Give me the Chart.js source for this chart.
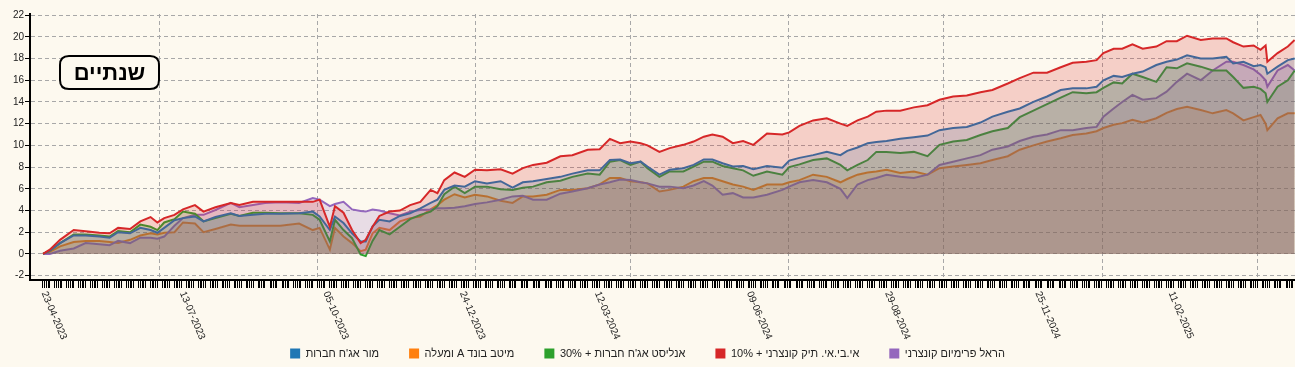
<!DOCTYPE html>
<html><head><meta charset="utf-8">
<script src="https://cdn.jsdelivr.net/npm/chart.js@4.4.1/dist/chart.umd.min.js"></script>
<style>
html,body{margin:0;padding:0;background:#fdf9ef;}
#wrap{width:1295px;height:367px;position:relative;overflow:hidden;}
canvas{display:block;}
</style></head><body>
<div id="wrap"><canvas id="c" width="1295" height="367"></canvas></div>
<script>
// ---------- data ----------
const dates = ['2023-04-23','2023-04-27','2023-05-03','2023-05-11','2023-05-18','2023-05-26','2023-06-01','2023-06-06','2023-06-13','2023-06-19',
'2023-06-25','2023-06-29','2023-07-03','2023-07-09','2023-07-14','2023-07-21','2023-07-26','2023-08-02','2023-08-11','2023-08-16',
'2023-08-24','2023-08-31','2023-09-09','2023-09-20','2023-09-28','2023-10-02','2023-10-08','2023-10-11','2023-10-16','2023-10-21',
'2023-10-26','2023-10-29','2023-11-02','2023-11-06','2023-11-12','2023-11-18','2023-11-24','2023-11-30','2023-12-06','2023-12-10',
'2023-12-14','2023-12-20','2023-12-26','2024-01-01','2024-01-08','2024-01-16','2024-01-23','2024-01-29','2024-02-04','2024-02-12',
'2024-02-20','2024-02-27','2024-03-07','2024-03-14','2024-03-20','2024-03-26','2024-04-01','2024-04-07','2024-04-11','2024-04-18',
'2024-04-24','2024-05-02','2024-05-08','2024-05-14','2024-05-19','2024-05-25','2024-05-31','2024-06-06','2024-06-12','2024-06-20',
'2024-06-29','2024-07-03','2024-07-09','2024-07-17','2024-07-25','2024-08-02','2024-08-06','2024-08-12','2024-08-18','2024-08-23',
'2024-08-29','2024-09-06','2024-09-14','2024-09-22','2024-09-29','2024-10-07','2024-10-15','2024-10-23','2024-10-30','2024-11-08',
'2024-11-15','2024-11-23','2024-12-01','2024-12-09','2024-12-16','2024-12-24','2024-12-30','2025-01-03','2025-01-09','2025-01-14',
'2025-01-20','2025-01-26','2025-02-03','2025-02-09','2025-02-15','2025-02-21','2025-03-01','2025-03-08','2025-03-16','2025-03-20',
'2025-03-26','2025-04-01','2025-04-05','2025-04-08','2025-04-09','2025-04-15','2025-04-21','2025-04-25'];

const morCorporate = [0,0.3,1.0,1.7,1.7,1.6,1.5,2.0,1.9,2.4,
2.2,1.95,2.4,3.1,3.3,3.45,3.0,3.4,3.75,3.5,
3.6,3.7,3.7,3.75,3.9,3.45,2.2,3.45,2.85,1.9,
1.15,1.15,2.55,3.15,3.0,3.5,3.75,4.2,4.7,5.0,
5.9,6.3,6.2,6.7,6.5,6.7,6.1,6.6,6.7,6.9,
7.1,7.4,7.7,7.7,8.65,8.7,8.35,8.5,8.05,7.3,
7.75,7.9,8.2,8.7,8.7,8.35,8.05,8.1,7.8,8.1,
7.95,8.6,8.85,9.1,9.4,9.1,9.5,9.8,10.2,10.3,
10.4,10.6,10.75,10.9,11.4,11.6,11.7,12.1,12.65,13.1,
13.4,14.0,14.5,15.1,15.25,15.25,15.4,16.0,16.4,16.3,
16.6,16.8,17.4,17.7,17.9,18.3,18.0,18.0,18.15,17.55,
17.7,17.3,17.4,17.2,16.6,17.25,17.85,18.0];

const meitavBond = [0,0.2,0.7,1.1,1.2,1.2,1.1,1.0,1.3,1.7,
1.9,1.8,1.95,2.0,2.9,2.8,2.0,2.3,2.7,2.6,
2.6,2.6,2.6,2.8,2.2,2.4,0.4,2.4,1.6,1.0,
0.25,0.4,1.9,2.4,2.2,3.0,3.3,3.45,4.1,4.5,
5.0,5.5,5.2,5.45,5.3,4.9,4.7,5.3,5.3,5.45,
5.9,5.9,6.05,6.4,7.0,7.0,6.7,6.6,6.5,5.75,
5.9,6.2,6.7,7.0,7.0,6.7,6.4,6.2,5.9,6.4,
6.4,6.6,6.8,7.3,7.1,6.6,6.9,7.3,7.5,7.6,
7.75,7.45,7.6,7.3,7.9,8.05,8.2,8.35,8.65,9.0,
9.6,10.0,10.35,10.65,10.95,11.1,11.3,11.6,11.9,12.05,
12.35,12.1,12.5,13.0,13.35,13.55,13.25,12.95,13.25,12.95,
12.3,12.6,12.8,12.0,11.4,12.5,12.95,12.95];

const analystCorporate = [0,0.3,1.0,1.8,1.8,1.7,1.6,2.1,2.0,2.7,
2.5,2.2,2.9,3.2,3.9,3.7,3.0,3.3,3.7,3.5,
3.8,3.8,3.75,3.75,3.6,3.15,1.15,3.15,2.2,1.45,
-0.05,-0.2,1.2,2.2,1.8,2.5,3.2,3.6,3.9,4.4,
5.5,6.2,5.6,6.2,6.2,5.95,5.9,6.1,6.2,6.6,
6.75,7.1,7.4,7.3,8.5,8.65,8.2,8.5,7.9,7.1,
7.6,7.6,8.05,8.5,8.5,8.1,7.9,7.7,7.2,7.6,
7.3,8.0,8.25,8.65,8.8,8.2,7.7,8.2,8.65,9.4,
9.4,9.3,9.4,9.0,10.05,10.35,10.5,10.95,11.3,11.6,
12.6,13.2,13.8,14.4,14.9,14.8,14.9,15.3,15.8,15.7,
16.6,16.3,15.85,17.2,17.1,17.55,17.25,16.9,16.9,16.3,
15.3,15.4,15.2,14.8,14.0,15.4,16.0,16.9];

const ibiCorporate = [0,0.4,1.3,2.2,2.1,1.95,1.9,2.4,2.3,3.0,
3.4,2.9,3.3,3.6,4.1,4.5,3.9,4.3,4.7,4.5,
4.8,4.8,4.8,4.8,4.8,5.0,2.5,4.4,3.8,2.2,
1.0,1.3,2.5,3.5,3.9,4.0,4.5,4.8,5.9,5.6,
6.8,7.5,7.1,7.75,7.7,7.8,7.4,7.9,8.2,8.4,
9.0,9.1,9.6,9.65,10.6,10.2,10.35,10.2,10.0,9.4,
9.75,10.05,10.35,10.8,11.0,10.8,10.2,10.4,10.05,11.1,
11.0,11.2,11.8,12.3,12.5,12.0,11.8,12.3,12.65,13.1,
13.2,13.2,13.5,13.7,14.2,14.5,14.6,14.9,15.1,15.7,
16.2,16.7,16.7,17.2,17.6,17.7,17.85,18.5,18.9,18.9,
19.3,18.9,19.1,19.6,19.6,20.1,19.7,19.85,19.85,19.5,
19.1,19.2,18.8,19.2,17.7,18.5,19.1,19.7];

const harelPremium = [0,0.0,0.3,0.5,1.0,0.9,0.8,1.2,1.0,1.5,
1.5,1.4,1.6,2.6,3.3,3.6,3.6,4.05,4.7,4.3,
4.5,4.7,4.75,4.7,5.15,5.0,4.4,4.6,4.8,4.1,
3.95,3.9,4.1,4.0,3.75,3.55,3.9,4.05,4.1,4.2,
4.2,4.25,4.4,4.6,4.75,5.0,5.3,5.35,5.0,5.0,
5.55,5.75,6.05,6.4,6.6,6.85,6.8,6.6,6.5,6.2,
6.2,6.05,6.3,6.7,6.3,5.45,5.6,5.2,5.2,5.45,
5.9,6.2,6.6,6.8,6.6,6.0,5.15,6.4,6.8,7.0,
7.3,7.1,7.0,7.3,8.2,8.5,8.8,9.1,9.6,9.9,
10.4,10.8,11.0,11.4,11.4,11.6,11.7,12.65,13.4,14.0,
14.65,14.2,14.35,14.95,15.85,16.6,16.0,16.9,17.7,17.7,
17.4,17.0,16.5,16.0,15.4,16.9,17.4,16.9];

const seriesNames = ["מור אג'ח חברות", "מיטב בונד A ומעלה", "אנליסט אג'ח חברות + 30%", "אי.בי.אי. תיק קונצרני + 10%", "הראל פרימיום קונצרני"];
const seriesColors = ['#1f77b4', '#ff7f0e', '#2ca02c', '#d62728', '#9467bd'];
const xTickLabels = ['23-04-2023','13-07-2023','05-10-2023','24-12-2023','12-03-2024','09-06-2024','29-08-2024','25-11-2024','11-02-2025'];
const yTickValues = [-2,0,2,4,6,8,10,12,14,16,18,20,22];
const gridDays = [68.5, 161, 253.5, 344.3, 436.3, 527.6, 620.2, 711];
const chartTitle = 'שנתיים';

// ---------- helpers ----------
const BASE = Date.UTC(2023, 3, 23);
const dayNum = (iso) => { const [y,m,d] = iso.split('-').map(Number); return Math.round((Date.UTC(y,m-1,d) - BASE)/86400000); };
const dmyToIso = (s) => { const [d,m,y] = s.split('-'); return `${y}-${m}-${d}`; };
const FONT = '"Liberation Sans", Arial, "DejaVu Sans", sans-serif';

const lastDay = dayNum(dates[dates.length-1]);
const tradingTicks = [];
for (let d = 0; d <= lastDay; d++) {
  const wd = new Date(BASE + d*86400000).getUTCDay();
  if (wd <= 4) tradingTicks.push({value: d});
}
const gridTicks = gridDays.map(v => ({value: v, gridLine: true}));
const allXTicks = tradingTicks.concat(gridTicks).sort((a,b)=>a.value-b.value);

const seriesValues = [morCorporate, meitavBond, analystCorporate, ibiCorporate, harelPremium];
const drawOrder = [1, 4, 2, 0, 3];

function rgba(hex, a){ const n=parseInt(hex.slice(1),16); return `rgba(${n>>16},${(n>>8)&255},${n&255},${a})`; }

const datasets = seriesValues.map((vals, i) => ({
  label: seriesNames[i],
  data: dates.map((d, j) => ({x: dayNum(d), y: vals[j]})),
  borderColor: seriesColors[i],
  backgroundColor: rgba(seriesColors[i], 0.2),
  borderWidth: 2,
  pointRadius: 0,
  tension: 0,
  fill: 'origin',
  order: drawOrder[i]
}));

const titlePlugin = {
  id: 'titleBox',
  afterDraw(chart){
    const ctx = chart.ctx;
    ctx.save();
    const x=60, y=56, w=99, h=33, r=9;
    ctx.beginPath();
    ctx.moveTo(x+r,y); ctx.lineTo(x+w-r,y); ctx.quadraticCurveTo(x+w,y,x+w,y+r);
    ctx.lineTo(x+w,y+h-r); ctx.quadraticCurveTo(x+w,y+h,x+w-r,y+h);
    ctx.lineTo(x+r,y+h); ctx.quadraticCurveTo(x,y+h,x,y+h-r);
    ctx.lineTo(x,y+r); ctx.quadraticCurveTo(x,y,x+r,y); ctx.closePath();
    ctx.fillStyle = '#fdf9ef'; ctx.fill();
    ctx.lineWidth = 2; ctx.strokeStyle = '#000'; ctx.stroke();
    ctx.fillStyle = '#000';
    ctx.font = 'bold 22px ' + FONT;
    ctx.textAlign = 'center'; ctx.textBaseline = 'middle';
    ctx.fillText(chartTitle, x + w/2, y + h/2 + 1);
    ctx.restore();
  }
};

const xLabelPlugin = {
  id: 'xLabels',
  afterDraw(chart){
    const sx = chart.scales.x, ctx = chart.ctx;
    ctx.save();
    ctx.direction = 'ltr';
    ctx.font = '10px ' + FONT;
    ctx.fillStyle = '#222';
    ctx.textAlign = 'left';
    ctx.textBaseline = 'middle';
    xTickLabels.forEach(lbl => {
      const px = sx.getPixelForValue(dayNum(dmyToIso(lbl)));
      ctx.save();
      ctx.translate(px + 1, sx.top + 12);
      ctx.rotate(67 * Math.PI / 180);
      ctx.fillText(lbl, 0, 0);
      ctx.restore();
    });
    ctx.restore();
  }
};

new Chart(document.getElementById('c'), {
  type: 'line',
  data: { datasets },
  options: {
    responsive: false,
    animation: false,
    devicePixelRatio: 1,
    layout: { padding: { top: 14, right: 0, left: 0, bottom: -2 } },
    plugins: {
      filler: { drawTime: 'beforeDatasetDraw' },
      tooltip: { enabled: false },
      legend: {
        position: 'bottom',
        align: 'center',
        labels: {
          boxWidth: 10, boxHeight: 10, padding: 30,
          color: '#222',
          font: { size: 11, family: FONT },
          sort: (a, b) => a.datasetIndex - b.datasetIndex,
          generateLabels: (chart) => Chart.defaults.plugins.legend.labels.generateLabels(chart).map(it => ({
            ...it,
            text: '\u202B' + it.text + '\u202C',
            fillStyle: seriesColors[it.datasetIndex], strokeStyle: seriesColors[it.datasetIndex], lineWidth: 0
          }))
        }
      }
    },
    scales: {
      x: {
        type: 'linear',
        min: -7.6, max: 733.2,
        afterBuildTicks: (s) => { s.ticks = allXTicks.map(t => ({...t})); },
        afterFit: (s) => { s.height = 38; },
        ticks: { display: false },
        grid: {
          color: (c) => (c.tick && c.tick.gridLine) ? '#a8a8a8' : 'rgba(0,0,0,0)',
          tickColor: (c) => (c.tick && c.tick.gridLine) ? 'rgba(0,0,0,0)' : '#000',
          lineWidth: 1, tickLength: 8, tickWidth: 1
        },
        border: { color: '#000', width: 2, dash: [4, 3] }
      },
      y: {
        min: -2.4, max: 22.1,
        afterBuildTicks: (s) => { s.ticks = yTickValues.map(v => ({value: v})); },
        afterFit: (s) => { s.width = 30; },
        ticks: { color: '#222', font: { size: 10, family: FONT }, padding: 1 },
        grid: { color: '#a8a8a8', tickColor: '#000', tickLength: 5, lineWidth: 1 },
        border: { color: '#000', width: 2, dash: [4, 3] }
      }
    }
  },
  plugins: [titlePlugin, xLabelPlugin]
});
</script>
</body></html>
